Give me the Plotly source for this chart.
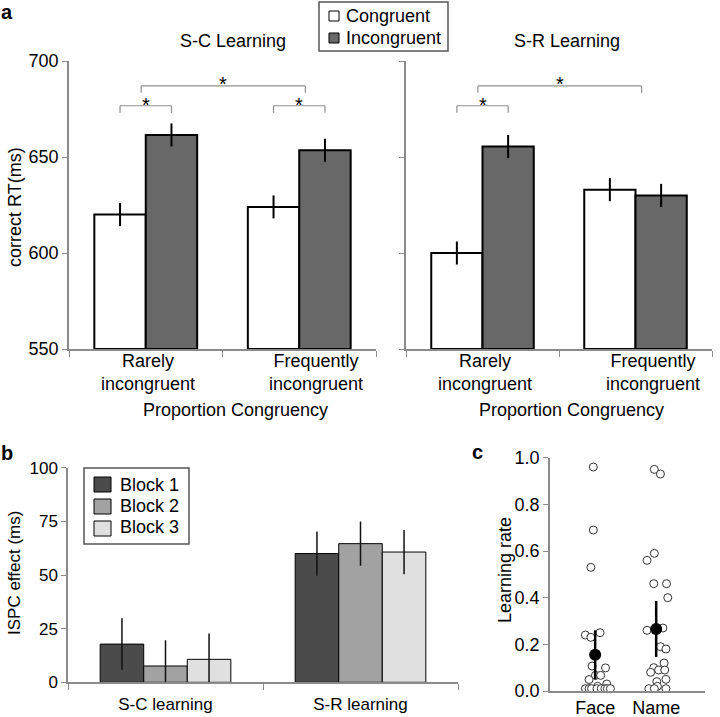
import plotly.graph_objects as go

W, H = 720, 717

# ---------------- Panel a data ----------------
pc_categories = ["Rarely<br>incongruent", "Frequently<br>incongruent"]
sc_congruent = [620, 624]
sc_incongruent = [661.5, 653.5]
sr_congruent = [600, 633]
sr_incongruent = [655.5, 630]
sc_congruent_err = [6, 6]
sc_incongruent_err = [6, 6]
sr_congruent_err = [6, 6]
sr_incongruent_err = [6, 6]
rt_ticks = [550, 600, 650, 700]

# ---------------- Panel b data ----------------
block_categories = ["S-C learning", "S-R learning"]
block1 = [17.8, 60.0]
block2 = [7.6, 64.6]
block3 = [10.7, 60.7]
block1_err = [12, 10.3]
block2_err = [12, 10.3]
block3_err = [12, 10.3]
ispc_ticks = [0, 25, 50, 75, 100]

# ---------------- Panel c data ----------------
group_labels = ["Face", "Name"]
face_rates = [0.96, 0.69, 0.53, 0.24, 0.23, 0.25, 0.107, 0.099, 0.049, 0.067, 0.067,
              0.03, 0.02, 0.01, 0.01, 0.01, 0.01, 0.01, 0.01, 0.01, 0.01]
face_jitter = [-0.03, -0.03, -0.07, -0.16, -0.07, 0.08, -0.05, 0.17, -0.10, 0.005, 0.09,
               0.19, 0.04, -0.16, -0.10, -0.06, 0.03, 0.10, 0.16, 0.20, 0.25]
name_rates = [0.95, 0.93, 0.59, 0.56, 0.46, 0.46, 0.40, 0.26, 0.27, 0.19, 0.18, 0.12,
              0.10, 0.08, 0.09, 0.09, 0.05, 0.04, 0.02, 0.01, 0.01, 0.01]
name_jitter = [-0.03, 0.07, -0.03, -0.15, -0.04, 0.17, 0.19, -0.15, 0.11, 0.07, 0.16, 0.13,
               -0.04, -0.09, 0.04, 0.14, 0.16, 0.01, 0.02, -0.12, -0.03, 0.16]
group_means = [0.155, 0.266]
group_mean_err = [0.105, 0.12]
rate_ticks = [0.0, 0.2, 0.4, 0.6, 0.8, 1.0]

FONT = "Liberation Sans, Arial, sans-serif"
AXC = "#8a8a8a"
C_CONG = "#ffffff"
C_INC = "#686868"
C_B1 = "#4b4b4b"
C_B2 = "#a2a2a2"
C_B3 = "#e0e0e0"


def px_x(p):
    return p / W


def px_y(p):
    return 1 - p / H


fig = go.Figure()

RT_BASE = rt_ticks[0]


def rt_bar(name, vals, errs, color, xa, ya):
    return go.Bar(
        name=name, x=pc_categories, y=[v - RT_BASE for v in vals], base=RT_BASE,
        marker=dict(color=color, line=dict(color="black", width=2)),
        error_y=dict(type="data", array=errs, color="black", thickness=2, width=0),
        xaxis=xa, yaxis=ya, showlegend=False,
    )


fig.add_trace(rt_bar("Congruent", sc_congruent, sc_congruent_err, C_CONG, "x", "y"))
fig.add_trace(rt_bar("Incongruent", sc_incongruent, sc_incongruent_err, C_INC, "x", "y"))
fig.add_trace(rt_bar("Congruent", sr_congruent, sr_congruent_err, C_CONG, "x2", "y2"))
fig.add_trace(rt_bar("Incongruent", sr_incongruent, sr_incongruent_err, C_INC, "x2", "y2"))

block_series = [("Block 1", block1, block1_err, C_B1),
                ("Block 2", block2, block2_err, C_B2),
                ("Block 3", block3, block3_err, C_B3)]
for nm, vals, errs, col in block_series:
    fig.add_trace(go.Bar(
        name=nm, x=block_categories, y=vals,
        marker=dict(color=col, line=dict(color="black", width=1)),
        error_y=dict(type="data", array=errs, color="#111111", thickness=1.5, width=0),
        xaxis="x3", yaxis="y3", showlegend=False, cliponaxis=False,
    ))

# Panel c scatter
for gi, (rates, jit) in enumerate([(face_rates, face_jitter), (name_rates, name_jitter)]):
    fig.add_trace(go.Scatter(
        x=[gi + j for j in jit], y=rates, mode="markers", name=group_labels[gi],
        marker=dict(symbol="circle", size=8, color="white", line=dict(color="#333333", width=1)),
        xaxis="x4", yaxis="y4", showlegend=False, cliponaxis=False,
    ))
fig.add_trace(go.Scatter(
    x=[0, 1], y=group_means, mode="markers", name="mean",
    marker=dict(symbol="circle", size=12, color="black"),
    error_y=dict(type="data", array=group_mean_err, color="black", thickness=2.5, width=0),
    xaxis="x4", yaxis="y4", showlegend=False, cliponaxis=False,
))

tickfont = dict(family=FONT, size=18, color="black")
common_axis = dict(showline=True, linecolor=AXC, linewidth=1.5, showgrid=False, zeroline=False,
                   ticks="outside", tickcolor=AXC, ticklen=6, tickwidth=1.2, tickfont=tickfont)

ya_dom = [px_y(349), px_y(61)]
fig.update_layout(
    width=W, height=H, margin=dict(l=0, r=0, t=0, b=0, autoexpand=False),
    paper_bgcolor="white", plot_bgcolor="white",
    barmode="group", bargap=0.33, bargroupgap=0,
    font=dict(family=FONT, size=18, color="black"),
    showlegend=False,
    xaxis=dict(common_axis, domain=[px_x(69), px_x(376)], anchor="y", type="category",
               tickson="boundaries", showticklabels=False),
    yaxis=dict(common_axis, domain=ya_dom, anchor="x", range=[550, 700], tickvals=rt_ticks,
               ticklen=5),
    xaxis2=dict(common_axis, domain=[px_x(406), px_x(712)], anchor="y2", type="category",
                tickson="boundaries", showticklabels=False),
    yaxis2=dict(common_axis, domain=ya_dom, anchor="x2", range=[550, 700], tickvals=rt_ticks,
                showticklabels=False, ticklen=5),
    xaxis3=dict(common_axis, domain=[px_x(68), px_x(458)], anchor="y3", type="category",
                tickson="boundaries", ticklabelstandoff=6,
                tickfont=dict(family=FONT, size=17, color="black")),
    yaxis3=dict(common_axis, domain=[px_y(682.3), px_y(467.7)], anchor="x3", range=[0, 100],
                tickvals=ispc_ticks, ticklen=5, tickfont=dict(family=FONT, size=17, color="black")),
    xaxis4=dict(common_axis, domain=[px_x(550), px_x(705)], anchor="y4", range=[-0.74, 1.8],
                tickvals=[0, 1], ticktext=group_labels, ticks=""),
    yaxis4=dict(common_axis, domain=[px_y(691), px_y(457.7)], anchor="x4", range=[0, 1],
                tickvals=rate_ticks, tickformat=".1f", ticklen=5),
)

shapes = []
annotations = []

# Significance brackets
off = (1 - 0.33) / 4


def bracket(xa, ya, x0, x1, ytop, yleg, ystar):
    for (a, b, c, d) in [(x0, yleg, x0, ytop), (x0, ytop, x1, ytop), (x1, ytop, x1, yleg)]:
        shapes.append(dict(type="line", xref=xa, yref=ya, x0=a, y0=b, x1=c, y1=d,
                           line=dict(color="#8f8f8f", width=1.2)))
    annotations.append(dict(xref=xa, yref=ya, x=(x0 + x1) / 2, y=ystar, text="*",
                            showarrow=False, font=dict(family=FONT, size=20, color="black"),
                            xanchor="center", yanchor="middle"))


bracket("x", "y", -off, off, 676.7, 673, 677.3)
bracket("x", "y", 1 - off, 1 + off, 676.7, 673, 677.3)
bracket("x", "y", -0.03, 1.04, 687, 683.5, 687.8)
bracket("x2", "y2", -off, off, 676.7, 673, 677.3)
bracket("x2", "y2", -0.03, 1.04, 687, 683.5, 687.8)

# Category labels for panel a (placed on the category axes)
label_shift = [2, 17]
for xa in ("x", "x2"):
    for i, cat in enumerate(pc_categories):
        annotations.append(dict(xref=xa, yref="paper", x=i, y=px_y(372.5), text=cat,
                                xshift=label_shift[i], showarrow=False,
                                xanchor="center", yanchor="middle",
                                font=dict(family=FONT, size=18, color="black")))


def ptext(text, x, y, size=18, bold=False, angle=0, xanchor="center"):
    annotations.append(dict(xref="paper", yref="paper", x=px_x(x), y=px_y(y),
                            text=f"<b>{text}</b>" if bold else text, showarrow=False,
                            textangle=angle, xanchor=xanchor, yanchor="middle",
                            font=dict(family=FONT, size=size, color="black")))


def legend_box(x0, y0, x1, y1, entries, sq, text_x, row_y):
    shapes.append(dict(type="rect", xref="paper", yref="paper", x0=px_x(x0), x1=px_x(x1),
                       y0=px_y(y1), y1=px_y(y0), line=dict(color="#555555", width=1.5),
                       fillcolor="white", layer="above"))
    for (name, color), (sx0, sy0), ty in zip(entries, sq, row_y):
        shapes.append(dict(type="rect", xref="paper", yref="paper",
                           x0=px_x(sx0[0]), x1=px_x(sx0[1]), y0=px_y(sy0[1]), y1=px_y(sy0[0]),
                           line=dict(color="black", width=1), fillcolor=color, layer="above"))
        ptext(name, text_x, ty, 18, xanchor="left")


# Legend for panel a
legend_box(319, 2, 448, 51,
           [("Congruent", C_CONG), ("Incongruent", C_INC)],
           [((329, 339), (11, 21)), ((329, 339), (33, 43))],
           344, [16, 38])
# Legend for panel b
legend_box(84, 468, 189, 544,
           [(s[0], s[3]) for s in block_series],
           [((94, 111), (477, 492)), ((94, 111), (499, 514)), ((94, 111), (521, 536))],
           118, [485, 506, 527])

ptext("a", 7, 12, 20, True)
ptext("b", 7, 453, 20, True)
ptext("c", 477, 452, 20, True)
ptext("S-C Learning", 233, 41)
ptext("S-R Learning", 567, 41)
ptext("Proportion Congruency", 235, 410)
ptext("Proportion Congruency", 571, 410)
ptext("correct RT(ms)", 15, 207, 18, angle=-90)
ptext("ISPC effect (ms)", 14, 573, 17, angle=-90)
ptext("Learning rate", 505, 570, 18, angle=-90)

fig.update_layout(shapes=shapes, annotations=annotations)

fig.write_html("out.html", config={"displayModeBar": False},
               post_script="document.body.style.margin='0';document.body.style.overflow='hidden';")
